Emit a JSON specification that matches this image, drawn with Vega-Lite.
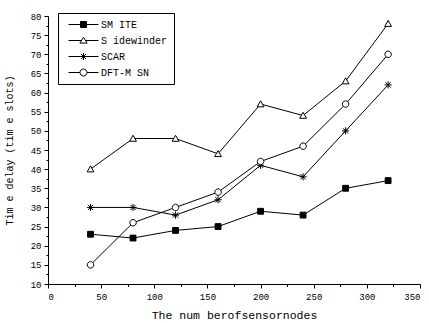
{
  "$schema": "https://vega.github.io/schema/vega-lite/v6.json",
  "width": 372,
  "height": 268,
  "autosize": {"type": "none"},
  "padding": {"left": 48, "top": 16, "right": 9, "bottom": 39},
  "background": "white",
  "config": {
    "view": {"stroke": null},
    "font": "Liberation Mono",
    "axis": {"domainColor": "black", "tickColor": "black", "labelColor": "black", "titleColor": "black", "grid": false, "domainWidth": 1, "tickWidth": 1, "labelFont": "Liberation Mono", "titleFont": "Liberation Mono", "titleFontWeight": "normal", "labelFontSize": 9}
  },
  "data": {
    "values": [
      {"n": 40, "delay": 23, "series": "SM ITE"},
      {"n": 80, "delay": 22, "series": "SM ITE"},
      {"n": 120, "delay": 24, "series": "SM ITE"},
      {"n": 160, "delay": 25, "series": "SM ITE"},
      {"n": 200, "delay": 29, "series": "SM ITE"},
      {"n": 240, "delay": 28, "series": "SM ITE"},
      {"n": 280, "delay": 35, "series": "SM ITE"},
      {"n": 320, "delay": 37, "series": "SM ITE"},
      {"n": 40, "delay": 40, "series": "S idewinder"},
      {"n": 80, "delay": 48, "series": "S idewinder"},
      {"n": 120, "delay": 48, "series": "S idewinder"},
      {"n": 160, "delay": 44, "series": "S idewinder"},
      {"n": 200, "delay": 57, "series": "S idewinder"},
      {"n": 240, "delay": 54, "series": "S idewinder"},
      {"n": 280, "delay": 63, "series": "S idewinder"},
      {"n": 320, "delay": 78, "series": "S idewinder"},
      {"n": 40, "delay": 30, "series": "SCAR"},
      {"n": 80, "delay": 30, "series": "SCAR"},
      {"n": 120, "delay": 28, "series": "SCAR"},
      {"n": 160, "delay": 32, "series": "SCAR"},
      {"n": 200, "delay": 41, "series": "SCAR"},
      {"n": 240, "delay": 38, "series": "SCAR"},
      {"n": 280, "delay": 50, "series": "SCAR"},
      {"n": 320, "delay": 62, "series": "SCAR"},
      {"n": 40, "delay": 15, "series": "DFT-M SN"},
      {"n": 80, "delay": 26, "series": "DFT-M SN"},
      {"n": 120, "delay": 30, "series": "DFT-M SN"},
      {"n": 160, "delay": 34, "series": "DFT-M SN"},
      {"n": 200, "delay": 42, "series": "DFT-M SN"},
      {"n": 240, "delay": 46, "series": "DFT-M SN"},
      {"n": 280, "delay": 57, "series": "DFT-M SN"},
      {"n": 320, "delay": 70, "series": "DFT-M SN"}
    ]
  },
  "layer": [
    {
      "mark": {"type": "line", "stroke": "black", "strokeWidth": 1},
      "encoding": {
        "x": {"field": "n", "type": "quantitative", "scale": {"domain": [0, 350], "nice": false},
          "axis": {"values": [0, 50, 100, 150, 200, 250, 300, 350], "tickSize": 4, "labelPadding": 4, "title": "The num berofsensornodes", "titleFontSize": 11.5, "titlePadding": 8}},
        "y": {"field": "delay", "type": "quantitative", "scale": {"domain": [10, 80], "nice": false, "zero": false},
          "axis": {"values": [10, 15, 20, 25, 30, 35, 40, 45, 50, 55, 60, 65, 70, 75, 80], "tickSize": 4, "labelPadding": 3, "title": "Tim e delay (tim e slots)", "titleFontSize": 10, "titlePadding": 16}},
        "detail": {"field": "series"}
      }
    },
    {
      "mark": {"type": "point", "filled": true, "stroke": "black", "strokeWidth": 1, "opacity": 1, "size": 42},
      "encoding": {
        "x": {"field": "n", "type": "quantitative",
          "axis": {"orient": "bottom", "values": [25, 75, 125, 175, 225, 275, 325], "tickSize": 2.5, "labels": false, "domain": false, "title": null}},
        "y": {"field": "delay", "type": "quantitative",
          "axis": {"orient": "left", "values": [12.5, 17.5, 22.5, 27.5, 32.5, 37.5, 42.5, 47.5, 52.5, 57.5, 62.5, 67.5, 72.5, 77.5], "tickSize": 2, "labels": false, "domain": false, "title": null}},
        "shape": {"field": "series", "type": "nominal", "legend": null,
          "scale": {"domain": ["SM ITE", "S idewinder", "SCAR", "DFT-M SN"],
            "range": ["M-0.9,-0.9H0.9V0.9H-0.9Z", "M0,-1L1.05,0.85L-1.05,0.85Z", "M-1.1,0H1.1M0,-1.1V1.1M-0.8,-0.8L0.8,0.8M-0.8,0.8L0.8,-0.8", "M-1,0A1,1,0,1,1,1,0A1,1,0,1,1,-1,0Z"]}},
        "fill": {"field": "series", "type": "nominal", "legend": null,
          "scale": {"domain": ["SM ITE", "S idewinder", "SCAR", "DFT-M SN"], "range": ["black", "white", "black", "white"]}}
      }
    },
    {
      "transform": [{"filter": "false"}],
      "mark": {"type": "point", "filled": true, "stroke": "black", "strokeWidth": 1, "opacity": 1},
      "encoding": {
        "shape": {"field": "series", "type": "nominal",
          "scale": {"domain": ["SM ITE", "S idewinder", "SCAR", "DFT-M SN"],
            "range": ["M-0.2,0H2.2M3.4,0H5.8M2.2,-0.6H3.4V0.6H2.2Z", "M-0.2,0H2.4M3.2,0H5.8M2.8,-0.65L3.52,0.52L2.08,0.52Z", "M-0.2,0H5.8M2.8,-0.7V0.7M2.3,-0.5L3.3,0.5M2.3,0.5L3.3,-0.5", "M-0.2,0H2.1M3.5,0H5.8M2.1,0A0.7,0.7,0,1,1,3.5,0A0.7,0.7,0,1,1,2.1,0Z"]},
          "legend": {"title": null, "orient": "none", "legendX": 10, "legendY": -3, "symbolSize": 100, "symbolStrokeWidth": 1, "symbolStrokeColor": "black", "symbolOpacity": 1, "strokeColor": "black", "padding": 6, "rowPadding": 5, "labelFontSize": 10, "labelFont": "Liberation Mono", "labelColor": "black", "labelOffset": 26}},
        "fill": {"field": "series", "type": "nominal",
          "scale": {"domain": ["SM ITE", "S idewinder", "SCAR", "DFT-M SN"], "range": ["black", "white", "black", "white"]}},
        "stroke": {"field": "series", "type": "nominal",
          "scale": {"domain": ["SM ITE", "S idewinder", "SCAR", "DFT-M SN"], "range": ["black", "black", "black", "black"]}}
      }
    }
  ],
  "resolve": {
    "scale": {"shape": "independent", "fill": "independent", "stroke": "independent"},
    "axis": {"x": "independent", "y": "independent"}
  }
}
